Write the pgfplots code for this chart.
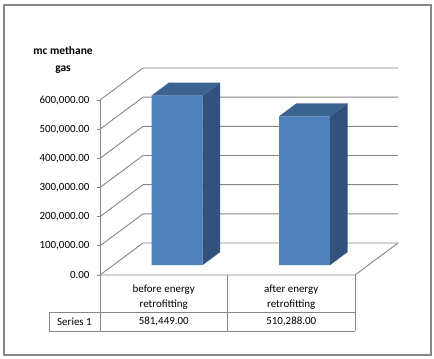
\documentclass[border=0pt]{standalone}
\usepackage{fontspec}
\setmainfont{Carlito}
\usepackage{pgfplots}
\usepackage{pgfplotstable}
\pgfplotsset{compat=1.18}

\definecolor{barfront}{RGB}{79,129,189}
\definecolor{barside}{RGB}{49,82,124}
\definecolor{bartop}{RGB}{60,98,146}
\definecolor{gridgrey}{RGB}{134,134,134}

% methane gas (m^3) before / after retrofitting
\pgfplotstableread{
x   v
0.5 581449
1.5 510288
}\methane
\pgfplotstablegetelem{0}{v}\of\methane \let\va\pgfplotsretval
\pgfplotstablegetelem{1}{v}\of\methane \let\vb\pgfplotsretval

% side and top face of a 3d bar; front plane offset (13.3,9.9)bp, depth (17.5,13)bp
\newcommand\barfaces[2]{%
  \fill[barside] ([shift={(38.8bp,9.9bp)}]axis cs:#1,0) -- ([shift={(38.8bp,9.9bp)}]axis cs:#1,#2)
    -- ++(17.5bp,13bp) -- ([shift={(56.3bp,22.9bp)}]axis cs:#1,0) -- cycle;
  \fill[bartop] ([shift={(-12.2bp,9.9bp)}]axis cs:#1,#2) -- ++(51bp,0) -- ++(17.5bp,13bp)
    -- ++(-51bp,0) -- cycle;
}

\begin{document}
\begin{tikzpicture}[x=1bp,y=1bp]
\path (0,0) rectangle (434,358);
\draw[gridgrey, line width=1.2bp] (4,3) rectangle (431,353);

\begin{axis}[
  at={(100bp,83bp)}, anchor=origin,
  scale only axis, width=255bp, height=175bp,
  xmin=0, xmax=2, ymin=0, ymax=600000,
  clip=false,
  axis x line*=bottom, axis y line*=left,
  axis line style={-},
  x axis line style={draw=none},
  y axis line style={draw=gridgrey, line width=0.9bp},
  tick align=outside, major tick length=3bp,
  ytick={0,100000,...,600000},
  y tick style={gridgrey, line width=0.9bp},
  x tick style={draw=none},
  scaled y ticks=false,
  yticklabel style={xshift=-4bp, /pgf/number format/.cd, fixed, fixed zerofill, precision=2,
    1000 sep={,}, assume math mode=true},
  ticklabel style={font=\fontsize{11}{15.5}\selectfont},
  xtick={0.5,1.5},
  xticklabels={{before energy\\retrofitting},{after energy\\retrofitting}},
  xticklabel style={align=center, yshift=-3bp},
  ylabel={mc methane\\gas},
  every axis y label/.style={at={(axis description cs:-0.145,1.23)}, anchor=center,
    align=center, font=\bfseries\fontsize{11.5}{17}\selectfont},
]
% walls and gridlines
\pgfplotsinvokeforeach{0,...,6}{
  \draw[gridgrey, line width=0.9bp] (axis cs:0,#100000) -- ++(43bp,32bp) -- ++(255bp,0);
}
\draw[gridgrey, line width=0.9bp] (axis cs:0,0) -- (axis cs:2,0) -- ++(43bp,32bp);

\addplot[ybar, bar width=0.4, fill=barfront, draw=none, xshift=13.3bp, yshift=9.9bp]
  table[x=x, y=v]{\methane};
\barfaces{0.5}{\va}
\barfaces{1.5}{\vb}
\end{axis}

% data table under the chart
\begin{scope}[gridgrey, line width=0.9bp]
  \draw (49,46) -- (355,46) (49,27) -- (355,27);
  \draw (49,46) -- (49,27) (100,83) -- (100,27) (227.5,83) -- (227.5,27) (355,83) -- (355,27);
\end{scope}
\begin{scope}[font=\fontsize{11}{13}\selectfont]
  \node at (74.5,36.5) {Series 1};
  \node at (163.75,36.5) {\pgfmathprintnumber[fixed, fixed zerofill, precision=2, 1000 sep={,}, assume math mode=true]{\va}};
  \node at (291.25,36.5) {\pgfmathprintnumber[fixed, fixed zerofill, precision=2, 1000 sep={,}, assume math mode=true]{\vb}};
\end{scope}
\end{tikzpicture}
\end{document}
